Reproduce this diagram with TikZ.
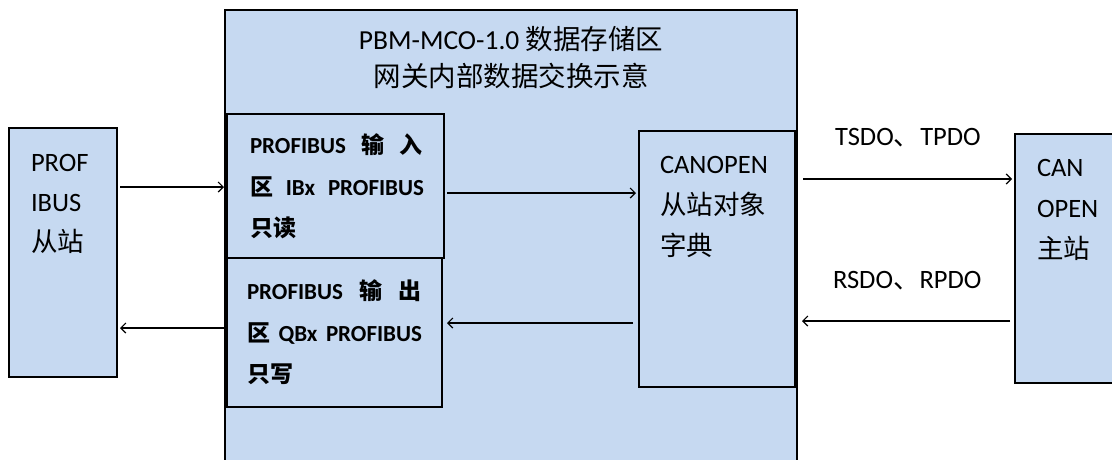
\documentclass[tikz,border=0pt]{standalone}
\usepackage{fontspec}
\setmainfont{Carlito}
\newfontfamily\cjk{Noto Sans CJK SC}
\usetikzlibrary{arrows.meta}
\definecolor{boxblue}{HTML}{C6D9F1}
\tikzset{
  box/.style={draw=black, fill=boxblue, line width=1.5pt, inner sep=0pt, outer sep=0pt, anchor=north west},
  txt/.style={inner sep=0pt, outer sep=0pt, anchor=base west, font=\fontsize{26.5}{32}\selectfont},
  ttl/.style={inner sep=0pt, outer sep=0pt, anchor=base, font=\fontsize{27.5}{32}\selectfont},
  btxt/.style={inner sep=0pt, outer sep=0pt, anchor=base west, font=\fontsize{23}{28}\selectfont\bfseries},
  arr/.style={line width=1.2pt, -{Straight Barb[length=5pt,width=10pt,line width=1.2pt]}}
}
\begin{document}
\begin{tikzpicture}[x=1pt,y=-1pt]
\useasboundingbox (0,0) rectangle (1112,459);
% boxes
\node[box, minimum width=572, minimum height=470] (gw) at (225,10) {};
\node[box, minimum width=108, minimum height=249] (ps) at (9,128) {};
\node[box, minimum width=217, minimum height=144] (in) at (227,114) {};
\node[box, minimum width=215, minimum height=149] (out) at (227,258) {};
\node[box, minimum width=156, minimum height=256] (cd) at (639,131) {};
\node[box, minimum width=110, minimum height=249] (ms) at (1015,134) {};
% title
\node[ttl] (t1) at (511,49) {PBM-MCO-1.0 {\cjk 数据存储区}};
\node[ttl] (t2) at (511,86) {\cjk 网关内部数据交换示意};
% profibus slave
\node[txt] (p1) at (31,171) {PROF};
\node[txt] (p2) at (31,211) {IBUS};
\node[txt] (p3) at (31,251) {\cjk 从站};
% input area
\node[btxt] (i1) at (250,153) {\makebox[173pt][l]{PROFIBUS\hfill{\cjk 输}\hfill{\cjk 入}}};
\node[btxt] (i2) at (250,195) {\makebox[174pt][l]{{\cjk 区}\hfill IBx\hfill PROFIBUS}};
\node[btxt] (i3) at (250,236) {\cjk 只读};
% output area
\node[btxt] (o1) at (247,299) {\makebox[175pt][l]{PROFIBUS\hfill{\cjk 输}\hfill{\cjk 出}}};
\node[btxt] (o2) at (247,341) {\makebox[175pt][l]{{\cjk 区}\hfill QBx\hfill PROFIBUS}};
\node[btxt] (o3) at (247,382) {\cjk 只写};
% canopen dictionary
\node[txt] (c1) at (660,173) {CANOPEN};
\node[txt] (c2) at (660,214) {\cjk 从站对象};
\node[txt] (c3) at (660,255) {\cjk 字典};
% canopen master
\node[txt] (m1) at (1037,176) {CAN};
\node[txt] (m2) at (1037,217) {OPEN};
\node[txt] (m3) at (1037,258) {\cjk 主站};
% labels
\node[txt] (l1) at (835,145) {TSDO{\cjk 、}TPDO};
\node[txt] (l2) at (833,288) {RSDO{\cjk 、}RPDO};
% arrow rows
\coordinate (ya) at (0,187);
\coordinate (yb) at (0,328);
\coordinate (yc) at (0,193);
\coordinate (yd) at (0,323);
\coordinate (ye) at (0,179);
\coordinate (yf) at (0,321);
% connectors
\draw[arr, shorten <=3pt, shorten >=3pt] (ps.east |- ya) -- (in.west |- ya);
\draw[arr, shorten <=3pt, shorten >=3pt] (out.west |- yb) -- (ps.east |- yb);
\draw[arr, shorten <=3pt, shorten >=3pt] (in.east |- yc) -- (cd.west |- yc);
\draw[arr, shorten <=6pt, shorten >=5pt] (cd.west |- yd) -- (out.east |- yd);
\draw[arr, shorten <=8pt, shorten >=3pt] (cd.east |- ye) -- (ms.west |- ye);
\draw[arr, shorten <=5pt, shorten >=7pt] (ms.west |- yf) -- (cd.east |- yf);
\end{tikzpicture}
\end{document}
